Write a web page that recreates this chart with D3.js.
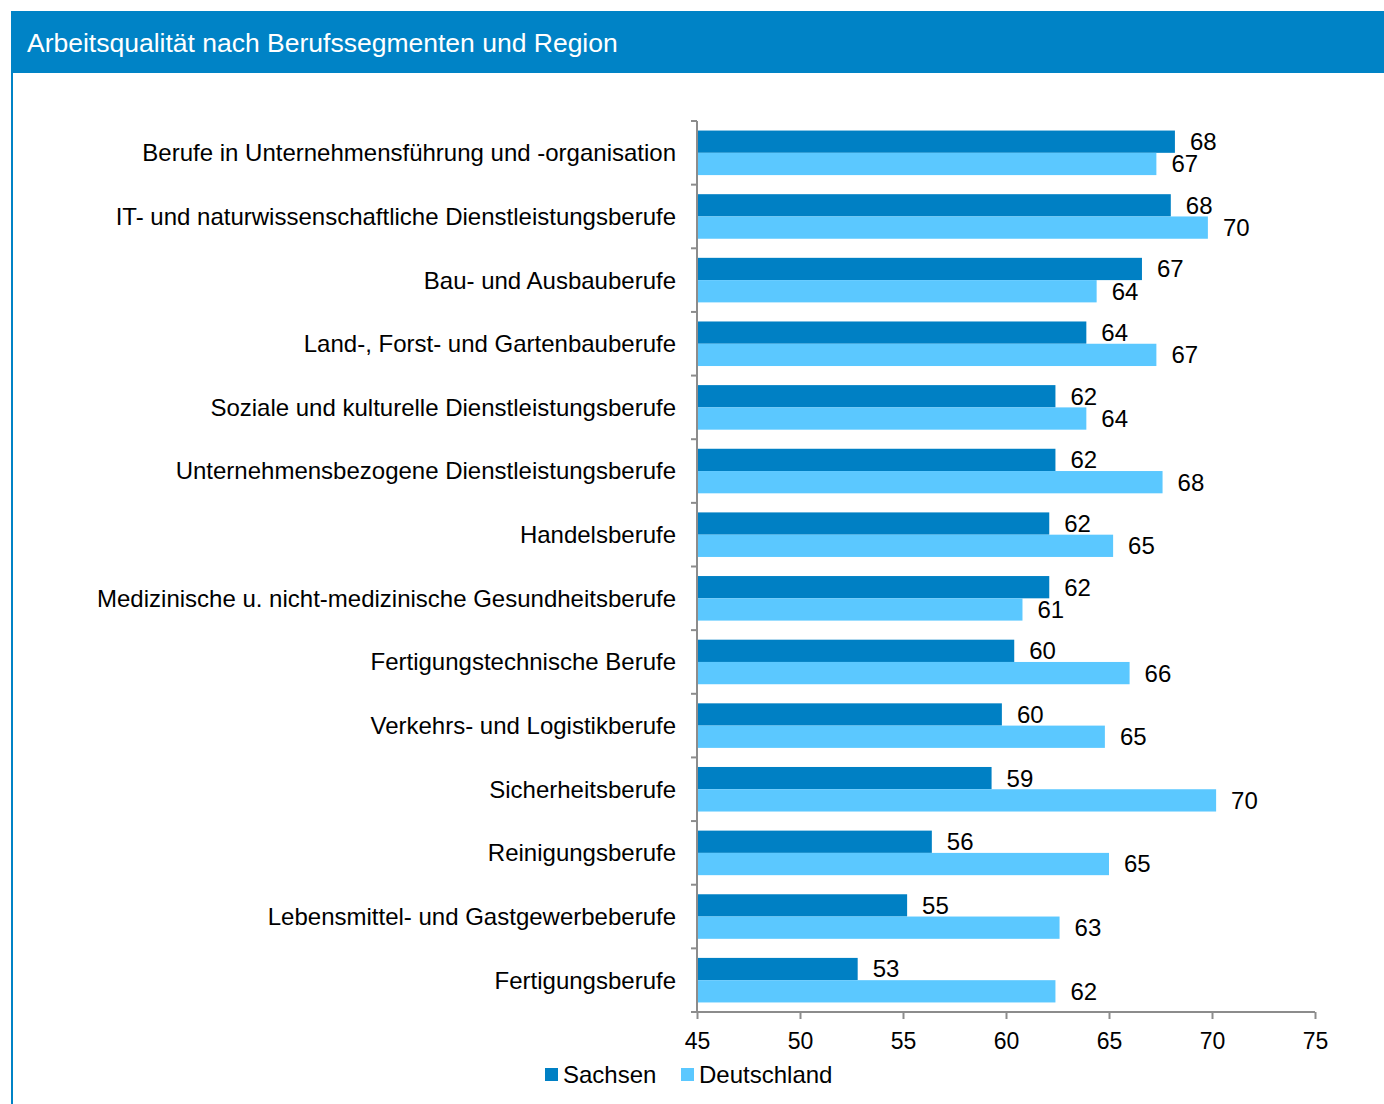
<!DOCTYPE html>
<html>
<head>
<meta charset="utf-8">
<script src="https://cdn.jsdelivr.net/npm/d3@7"></script>
<style>
  body { margin: 0; background: #fff; }
  svg { font-family: "Liberation Sans", Arial, sans-serif; }
</style>
</head>
<body>
<svg id="chart" width="1384" height="1104"></svg>
<script>
// categories, top to bottom
var categories = [
  "Berufe in Unternehmensführung und -organisation",
  "IT- und naturwissenschaftliche Dienstleistungsberufe",
  "Bau- und Ausbauberufe",
  "Land-, Forst- und Gartenbauberufe",
  "Soziale und kulturelle Dienstleistungsberufe",
  "Unternehmensbezogene Dienstleistungsberufe",
  "Handelsberufe",
  "Medizinische u. nicht-medizinische Gesundheitsberufe",
  "Fertigungstechnische Berufe",
  "Verkehrs- und Logistikberufe",
  "Sicherheitsberufe",
  "Reinigungsberufe",
  "Lebensmittel- und Gastgewerbeberufe",
  "Fertigungsberufe"
];
// values (labels shown rounded)
var sachsen = [68.2, 68.0, 66.6, 63.9, 62.4, 62.4, 62.1, 62.1, 60.4, 59.8, 59.3, 56.4, 55.2, 52.8];
var deutschland = [67.3, 69.8, 64.4, 67.3, 63.9, 67.6, 65.2, 60.8, 66.0, 64.8, 70.2, 65.0, 62.6, 62.4];
var series = ["Sachsen", "Deutschland"];
var xTicks = [45, 50, 55, 60, 65, 70, 75];

var colors = { Sachsen: "#0080C4", Deutschland: "#5BC8FF" };

var svg = d3.select("#chart");

// frame: blue header + left border
svg.append("rect").attr("x", 11).attr("y", 11).attr("width", 1373).attr("height", 62).attr("fill", "#0083C6");
svg.append("rect").attr("x", 11).attr("y", 73).attr("width", 2).attr("height", 1031).attr("fill", "#0083C6");
svg.append("text")
  .attr("x", 27).attr("y", 52)
  .attr("fill", "#fff")
  .style("font-size", "26.5px")
  .text("Arbeitsqualität nach Berufssegmenten und Region");

var margin = {top: 121, left: 697, right: 69, bottom: 92},
    width = 1384 - margin.left - margin.right,
    height = 1104 - margin.top - margin.bottom;

var g = svg.append("g").attr("transform", "translate(" + margin.left + "," + margin.top + ")");

var x = d3.scaleLinear().domain([45, 75]).range([0, width]);
var y = d3.scaleBand().domain(categories).range([0, height]).paddingInner(0.3).paddingOuter(0.15);
var y1 = d3.scaleBand().domain(series).range([0, y.bandwidth()]);

var rows = categories.map(function (c, i) {
  return { cat: c, values: [
    { key: "Sachsen", value: sachsen[i] },
    { key: "Deutschland", value: deutschland[i] }
  ]};
});

var row = g.selectAll(".row")
  .data(rows)
  .enter().append("g")
  .attr("transform", function (d) { return "translate(0," + y(d.cat) + ")"; });

row.selectAll("rect")
  .data(function (d) { return d.values; })
  .enter().append("rect")
  .attr("x", 0)
  .attr("y", function (d) { return y1(d.key); })
  .attr("height", y1.bandwidth())
  .attr("width", function (d) { return x(d.value) - x(45); })
  .attr("fill", function (d) { return colors[d.key]; });

row.selectAll("text")
  .data(function (d) { return d.values; })
  .enter().append("text")
  .attr("x", function (d) { return x(d.value) + 15; })
  .attr("y", function (d) { return y1(d.key) + y1.bandwidth() / 2; })
  .attr("dy", "0.35em")
  .style("font-size", "24px")
  .attr("fill", "#000")
  .text(function (d) { return Math.round(d.value); });

// category axis: ticks at band boundaries
var axisColor = "#8c8c8c";
g.append("line").attr("x1", 0).attr("x2", 0).attr("y1", 0).attr("y2", height)
  .attr("stroke", axisColor).attr("stroke-width", 2);
var step = height / categories.length;
g.selectAll(".ctick")
  .data(d3.range(categories.length + 1))
  .enter().append("line")
  .attr("x1", -6).attr("x2", 0)
  .attr("y1", function (d) { return d * step; })
  .attr("y2", function (d) { return d * step; })
  .attr("stroke", axisColor).attr("stroke-width", 2);
g.selectAll(".clabel")
  .data(categories)
  .enter().append("text")
  .attr("x", -21)
  .attr("y", function (d, i) { return (i + 0.5) * step; })
  .attr("dy", "0.35em")
  .attr("text-anchor", "end")
  .style("font-size", "24px")
  .text(function (d) { return d; });

// value axis
var xAxis = g.append("g")
  .attr("transform", "translate(0," + height + ")")
  .call(d3.axisBottom(x).tickValues(xTicks).tickSize(7).tickPadding(14));
xAxis.select(".domain").attr("stroke", axisColor).attr("stroke-width", 2).attr("d", "M0,0H" + width);
xAxis.selectAll(".tick line").attr("stroke", axisColor).attr("stroke-width", 2);
xAxis.selectAll(".tick text").style("font-size", "23px").style("font-family", "'Liberation Sans', Arial, sans-serif").attr("fill", "#000");

// legend
var legend = svg.append("g").attr("transform", "translate(545,1075)");
var li = legend.selectAll(".li")
  .data(series)
  .enter().append("g")
  .attr("transform", function (d, i) { return "translate(" + (i * 136) + ",0)"; });
li.append("rect").attr("x", 0).attr("y", -7).attr("width", 13).attr("height", 13)
  .attr("fill", function (d) { return colors[d]; });
li.append("text").attr("x", 18).attr("y", 0).attr("dy", "0.35em")
  .style("font-size", "24px")
  .text(function (d) { return d; });
</script>
</body>
</html>
